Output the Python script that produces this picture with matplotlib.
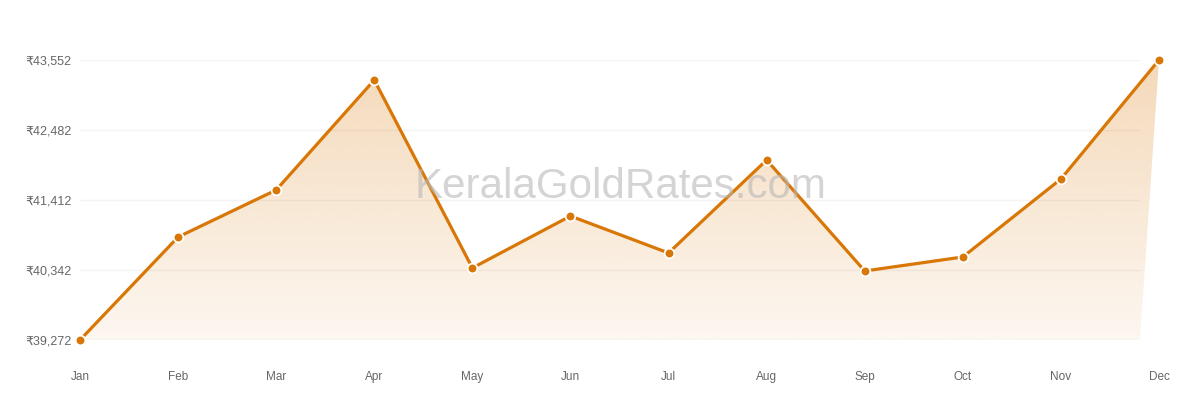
import matplotlib.pyplot as plt
import numpy as np
from matplotlib.patches import Polygon

plt.rcParams['font.family'] = ['Liberation Sans', 'DejaVu Sans']

# monthly gold rate (₹)
months = ['Jan', 'Feb', 'Mar', 'Apr', 'May', 'Jun', 'Jul', 'Aug', 'Sep', 'Oct', 'Nov', 'Dec']
rates = [39272, 40846, 41565, 43246, 40373, 41167, 40602, 42023, 40327, 40541, 41733, 43552]
yticks = [39272, 40342, 41412, 42482, 43552]

orange = '#d97706'

fig = plt.figure(figsize=(12, 4), dpi=100)
ax = fig.add_axes([80 / 1200, 60 / 400, 1079 / 1200, 280 / 400])

x = np.arange(len(months))
# grid and fill stop a little short of the last point
xmax = (1140 - 80) / ((1159 - 80) / 11)
ymin = yticks[0]

# gradient fill under the line
verts = list(zip(x, rates)) + [(xmax, ymin), (0, ymin)]
poly = Polygon(verts, closed=True, facecolor='none', edgecolor='none', transform=ax.transData)
ax.add_patch(poly)
grad = np.zeros((256, 1, 4))
grad[:, 0, 0] = 217 / 255
grad[:, 0, 1] = 119 / 255
grad[:, 0, 2] = 6 / 255
grad[:, 0, 3] = np.linspace(0.06, 0.28, 256)
im = ax.imshow(grad, extent=[0, x[-1], ymin, max(rates)], origin='lower',
               aspect='auto', zorder=1)
im.set_clip_path(poly)

ax.hlines(yticks, 0, xmax, color='#f3f3f3', lw=1, zorder=0)

fig.text(620 / 1200, 1 - 187 / 400, 'KeralaGoldRates.com', ha='center', va='center',
         fontsize=30.3, color='#b8b8b8', alpha=0.6, zorder=2)

ax.plot(x, rates, color=orange, lw=2.3, zorder=3, clip_on=False)
ax.plot(x, rates, 'o', ms=7, mfc=orange, mec='white', mew=1.3, zorder=4, clip_on=False)

ax.set_yticks(yticks)
ax.set_yticklabels([f'₹{v:,}' for v in yticks])
ax.set_xticks(x)
ax.set_xticklabels(months)
ax.set_xlim(0, x[-1])
ax.set_ylim(yticks[0], yticks[-1])
ax.tick_params(axis='y', length=0, pad=6, labelsize=9, labelcolor='#666666')
ax.tick_params(axis='x', length=0, pad=22, labelsize=8.5, labelcolor='#666666')
for s in ax.spines.values():
    s.set_visible(False)

fig.savefig('out.png', dpi=100)
